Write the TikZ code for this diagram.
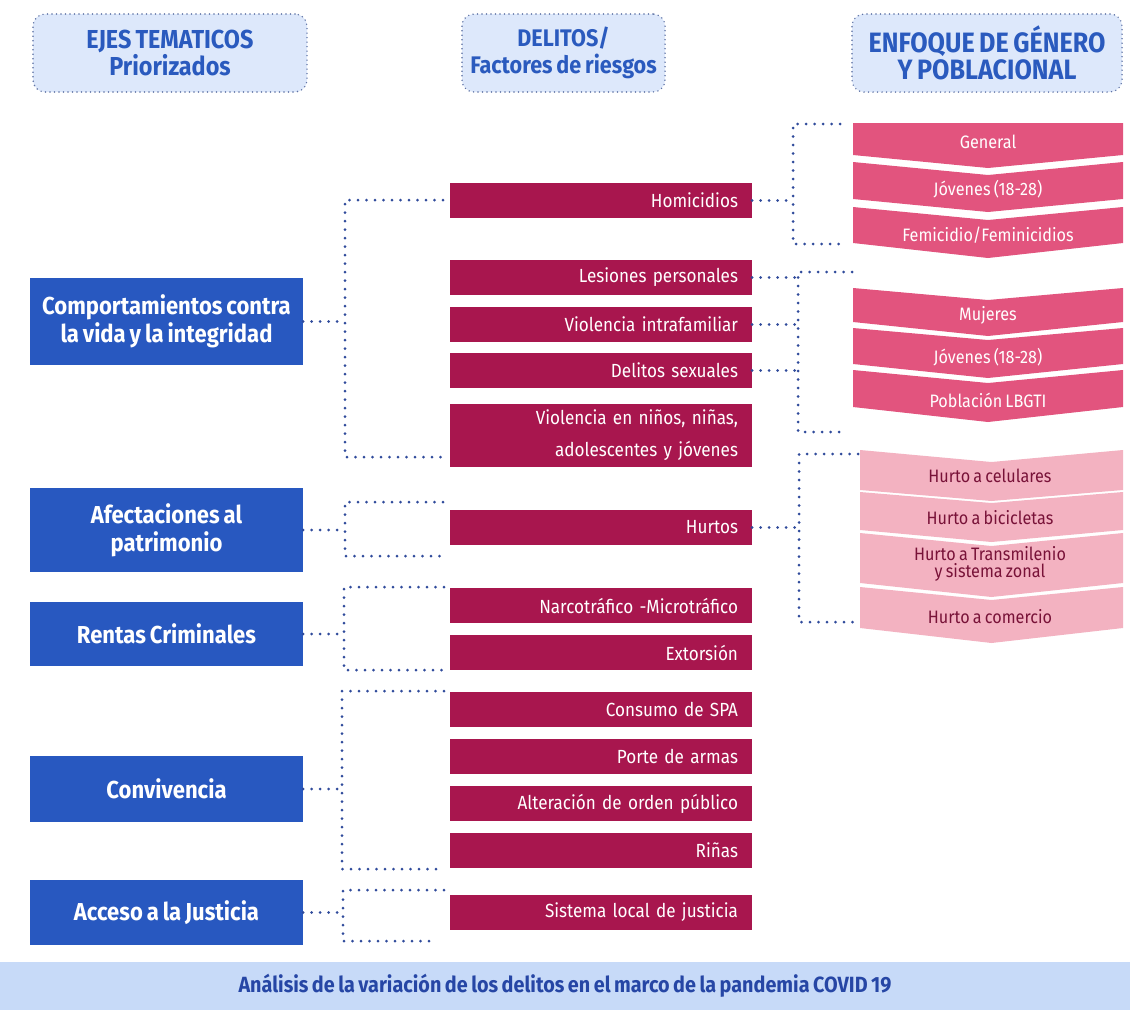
\documentclass[tikz,border=0pt]{standalone}
\usepackage{fontspec}
\setmainfont{Fira Sans}[FakeStretch=0.9, WordSpace=0.75]
\definecolor{bluebox}{RGB}{40,88,192}
\definecolor{crim}{RGB}{168,22,78}
\definecolor{hdrfill}{RGB}{221,232,251}
\definecolor{hdrtxt}{RGB}{42,90,190}
\definecolor{hdrline}{RGB}{95,115,165}
\definecolor{dotblue}{RGB}{48,75,155}
\definecolor{pinkd}{RGB}{226,84,126}
\definecolor{pinkl}{RGB}{243,178,193}
\definecolor{pinktxt}{RGB}{120,18,56}
\definecolor{barfill}{RGB}{199,218,248}
\definecolor{bartxt}{RGB}{38,70,165}
\newcommand\chev[7]{\fill[#7] (#1,#3) -- ({(#1+#2)/2},#4) -- (#2,#3) -- (#2,#5) -- ({(#1+#2)/2},#6) -- (#1,#5) -- cycle;}
\begin{document}
\begin{tikzpicture}[x=1pt,y=-1pt,
  hdr/.style={draw=hdrline, line width=1.6pt, dash pattern=on 0pt off 4.5pt, line cap=round, rounded corners=12pt, fill=hdrfill, text=hdrtxt, align=center, inner sep=0pt, minimum height=78pt},
  leftbox/.style={fill=bluebox, text=white, font=\fontsize{24.5}{28}\selectfont\bfseries, align=center, minimum width=273pt, inner sep=0pt},
  midbox/.style={fill=crim, text=white, font=\fontsize{19}{32}\selectfont, text width=274pt, align=right, inner xsep=14pt, inner ysep=0pt, minimum height=35pt},
  chevtxt/.style={font=\fontsize{18}{17.5}\selectfont, align=center, inner sep=0pt},
  dotc/.style={draw=dotblue, line width=3pt, dash pattern=on 0pt off 8.5pt, line cap=round}
]
\useasboundingbox (0,0) rectangle (1130,1010);

% headers
\node[hdr, minimum width=274pt, font=\fontsize{26}{27}\selectfont\bfseries] (h1) at (170,53) {EJES TEMATICOS\\Priorizados};
\node[hdr, minimum width=203pt, font=\fontsize{24}{27}\selectfont\bfseries] (h2) at (563.5,53) {DELITOS/\\Factores de riesgos};
\node[hdr, minimum width=270pt, font=\fontsize{28}{27}\selectfont\bfseries] (h3) at (987,53) {ENFOQUE DE GÉNERO\\Y POBLACIONAL};

% left boxes
\node[leftbox, minimum height=87pt] (comp) at (166.5,321.5) {Comportamientos contra\\la vida y la integridad};
\node[leftbox, minimum height=84pt] (afec) at (166.5,530) {Afectaciones al\\patrimonio};
\node[leftbox, minimum height=64pt] (rent) at (166.5,634) {Rentas Criminales};
\node[leftbox, minimum height=66pt] (conv) at (166.5,789) {Convivencia};
\node[leftbox, minimum height=65pt] (acce) at (166.5,912.5) {Acceso a la Justicia};

% middle boxes
\node[midbox] (homi) at (601,200.5) {Homicidios};
\node[midbox] (lesi) at (601,277.5) {Lesiones personales};
\node[midbox] (vint) at (601,324.5) {Violencia intrafamiliar};
\node[midbox] (dsex) at (601,370.5) {Delitos sexuales};
\node[midbox, minimum height=63pt] (vnin) at (601,435) {Violencia en niños, niñas,\\adolescentes y jóvenes};
\node[midbox] (hurt) at (601,527.5) {Hurtos};
\node[midbox] (narc) at (601,605.5) {Narcotráfico -Microtráfico};
\node[midbox] (exto) at (601,652.5) {Extorsión};
\node[midbox] (cons) at (601,709.5) {Consumo de SPA};
\node[midbox] (port) at (601,756.5) {Porte de armas};
\node[midbox] (alte) at (601,803.5) {Alteración de orden público};
\node[midbox] (rina) at (601,850.5) {Riñas};
\node[midbox] (sist) at (601,912.5) {Sistema local de justicia};

% chevrons group 1
\chev{853}{1123}{123}{123}{155}{168}{pinkd}
\chev{853}{1123}{162}{175}{199}{212}{pinkd}
\chev{853}{1123}{207}{220}{243}{258}{pinkd}
\node[chevtxt, text=white] (g1) at (988,142) {General};
\node[chevtxt, text=white] (g2) at (988,189) {Jóvenes (18-28)};
\node[chevtxt, text=white] (g3) at (988,235) {Femicidio/Feminicidios};
% chevrons group 2
\chev{853}{1123}{288}{300}{322}{336}{pinkd}
\chev{853}{1123}{328}{340}{364}{378}{pinkd}
\chev{853}{1123}{370}{383}{407}{422}{pinkd}
\node[chevtxt, text=white] (m1) at (988,315) {Mujeres};
\node[chevtxt, text=white] (m2) at (988,357) {Jóvenes (18-28)};
\node[chevtxt, text=white] (m3) at (988,400) {Población LBGTI};
% chevrons group 3
\chev{860}{1123}{450}{462}{490}{501}{pinkl}
\chev{860}{1123}{492}{503}{530}{542}{pinkl}
\chev{860}{1123}{533}{546}{583}{597}{pinkl}
\chev{860}{1123}{587}{600}{628}{643}{pinkl}
\node[chevtxt, text=pinktxt] (p1) at (990,476) {Hurto a celulares};
\node[chevtxt, text=pinktxt] (p2) at (990,518) {Hurto a bicicletas};
\node[chevtxt, text=pinktxt] (p3) at (990,564) {Hurto a Transmilenio\\y sistema zonal};
\node[chevtxt, text=pinktxt] (p4) at (990,617) {Hurto a comercio};

% left brackets
\coordinate (l1t) at (443,200); \coordinate (l1b) at (443,457); \coordinate (l1v) at (345,0);
\draw[dotc] (comp.east) -- (comp.east -| l1v);
\draw[dotc] (l1t) -| (l1v |- l1b) -- (l1b);
\coordinate (l2t) at (443,502); \coordinate (l2b) at (443,556); \coordinate (l2v) at (345,0);
\draw[dotc] (afec.east) -- (afec.east -| l2v);
\draw[dotc] (l2t) -| (l2v |- l2b) -- (l2b);
\coordinate (l3t) at (444,587); \coordinate (l3b) at (443,670); \coordinate (l3v) at (344,0);
\draw[dotc] (rent.east) -- (rent.east -| l3v);
\draw[dotc] (l3t) -| (l3v |- l3b) -- (l3b);
\coordinate (l4t) at (444,691); \coordinate (l4b) at (437,869); \coordinate (l4v) at (342,0);
\draw[dotc] (conv.east) -- (conv.east -| l4v);
\draw[dotc] (l4t) -| (l4v |- l4b) -- (l4b);
\coordinate (l5t) at (444,890); \coordinate (l5b) at (437,941); \coordinate (l5v) at (343,0);
\draw[dotc] (acce.east) -- (acce.east -| l5v);
\draw[dotc] (l5t) -| (l5v |- l5b) -- (l5b);

% right brackets
\coordinate (r1t) at (840,124); \coordinate (r1b) at (840,244); \coordinate (r1v) at (793,0);
\draw[dotc] (homi.east) -- (homi.east -| r1v);
\draw[dotc] (r1t) -| (r1v |- r1b) -- (r1b);
\coordinate (r2t) at (852,272); \coordinate (r2b) at (847,432); \coordinate (r2v) at (798,0);
\draw[dotc] (lesi.east) -- (lesi.east -| r2v);
\draw[dotc] (vint.east) -- (vint.east -| r2v);
\draw[dotc] (dsex.east) -- (dsex.east -| r2v);
\draw[dotc] (r2t) -| (r2v |- r2b) -- (r2b);
\coordinate (r3t) at (858,454); \coordinate (r3b) at (855,622); \coordinate (r3v) at (799,0);
\draw[dotc] (hurt.east) -- (hurt.east -| r3v);
\draw[dotc] (r3t) -| (r3v |- r3b) -- (r3b);

% bottom bar
\node[fill=barfill, minimum width=1130pt, minimum height=48pt, inner sep=0pt, text=bartxt, font=\fontsize{22}{26}\selectfont\bfseries] (bar) at (565,986) {Análisis de la variación de los delitos en el marco de la pandemia COVID 19};
\end{tikzpicture}
\end{document}
